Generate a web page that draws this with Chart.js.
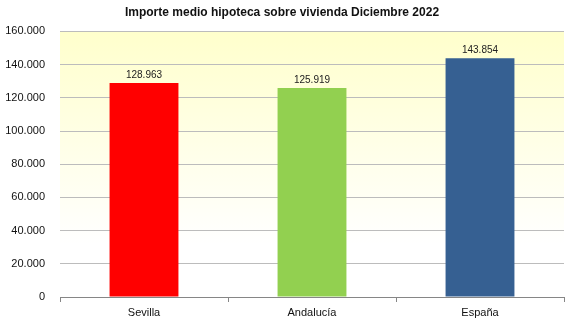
<!DOCTYPE html>
<html>
<head>
<meta charset="utf-8">
<script src="https://cdn.jsdelivr.net/npm/chart.js@4"></script>
<style>
  html, body { margin: 0; padding: 0; background: #fff; }
  #wrap { width: 574px; height: 329px; }
</style>
</head>
<body>
<div id="wrap"><canvas id="grafico"></canvas></div>
<script>
const regiones = ['Sevilla', 'Andalucía', 'España'];
const importes = [128963, 125919, 143854];
const coloresBarras = ['#FF0000', '#92D050', '#366092'];
const tituloGrafico = 'Importe medio hipoteca sobre vivienda Diciembre 2022';

const fmt = v => v.toLocaleString('de-DE');

// fondo degradado amarillo -> blanco dentro del area del grafico
const fondoDegradado = {
    id: 'fondoDegradado',
    beforeDraw(chart) {
        const { ctx, chartArea: a } = chart;
        const g = ctx.createLinearGradient(0, a.top, 0, a.bottom);
        g.addColorStop(0, '#FFFFCC');
        g.addColorStop(0.8, '#FFFFFF');
        g.addColorStop(1, '#FFFFFF');
        ctx.save();
        ctx.fillStyle = g;
        ctx.fillRect(a.left, a.top, a.right - a.left, a.bottom - a.top);
        ctx.restore();
    }
};

// etiquetas de valor encima de cada barra
const etiquetasValor = {
    id: 'etiquetasValor',
    afterDatasetsDraw(chart) {
        const { ctx } = chart;
        const meta = chart.getDatasetMeta(0);
        ctx.save();
        ctx.font = '10px "Liberation Sans", Arial, sans-serif';
        ctx.fillStyle = '#222';
        ctx.textAlign = 'center';
        ctx.textBaseline = 'bottom';
        meta.data.forEach((bar, i) => {
            ctx.fillText(fmt(importes[i]), bar.x, bar.y - 3);
        });
        ctx.restore();
    }
};

const ctx = document.getElementById('grafico').getContext('2d');
new Chart(ctx, {
    type: 'bar',
    data: {
        labels: regiones,
        datasets: [{
            data: importes,
            backgroundColor: coloresBarras,
            barPercentage: 0.41,
            categoryPercentage: 1
        }]
    },
    options: {
        responsive: true,
        maintainAspectRatio: false,
        animation: false,
        layout: { padding: { left: 0, right: 10, top: 5, bottom: 0 } },
        plugins: {
            legend: { display: false },
            tooltip: { enabled: false },
            title: {
                display: true,
                text: tituloGrafico,
                color: '#111',
                font: { family: '"Liberation Sans", Arial, sans-serif', size: 12, weight: 'bold' },
                padding: { top: 0, bottom: 12 }
            }
        },
        scales: {
            x: {
                grid: {
                    drawOnChartArea: false,
                    drawTicks: true,
                    tickLength: 5,
                    color: '#868686'
                },
                border: { color: '#868686' },
                ticks: {
                    color: '#111',
                    font: { family: '"Liberation Sans", Arial, sans-serif', size: 11 },
                    padding: 4
                },
                afterFit(s) { s.height = 32; }
            },
            y: {
                min: 0,
                max: 160000,
                grid: { color: '#BCBCBC', drawTicks: false },
                border: { display: false },
                ticks: {
                    stepSize: 20000,
                    color: '#111',
                    padding: 15,
                    font: { family: '"Liberation Sans", Arial, sans-serif', size: 11 },
                    callback: v => fmt(v)
                },
                afterFit(s) { s.width = 60; }
            }
        }
    },
    plugins: [fondoDegradado, etiquetasValor]
});
</script>
</body>
</html>
